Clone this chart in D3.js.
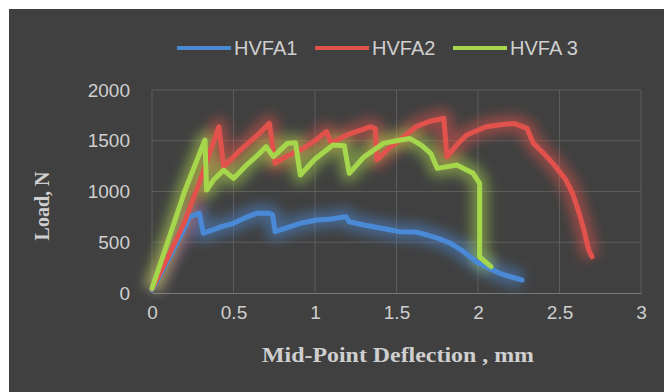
<!DOCTYPE html>
<head>
    <meta charset="utf-8">
    <script src="https://d3js.org/d3.v7.min.js"></script>
    <style>
        body { margin: 0; background: #fff; }
        .tick text { font-family: "Liberation Sans", Arial, sans-serif; }
    </style>
</head>
<body>
    <svg width="664" height="392"></svg>
    <script>
        // deflection (mm), load (N)
        var hvfa1 = [[0, 30], [0.1, 330], [0.2, 640], [0.23, 750], [0.29, 787], [0.315, 590], [0.35, 610],
            [0.42, 650], [0.5, 686], [0.57, 740], [0.64, 785], [0.72, 785], [0.74, 770], [0.755, 604],
            [0.82, 640], [0.91, 687], [1.01, 719], [1.1, 730], [1.19, 752], [1.21, 702], [1.3, 670],
            [1.4, 640], [1.52, 604], [1.62, 600], [1.69, 571], [1.76, 535], [1.83, 492], [1.91, 410],
            [1.99, 308], [2.06, 250], [2.13, 197], [2.2, 160], [2.27, 128]];
        var hvfa2 = [[0, 40], [0.1, 360], [0.2, 700], [0.3, 1130], [0.41, 1638], [0.44, 1244], [0.55, 1420],
            [0.65, 1560], [0.72, 1671], [0.755, 1277], [0.83, 1350], [0.91, 1408], [1.0, 1500],
            [1.07, 1590], [1.1, 1480], [1.2, 1560], [1.34, 1638], [1.37, 1620], [1.38, 1310],
            [1.45, 1420], [1.52, 1507], [1.62, 1638], [1.7, 1690], [1.79, 1721], [1.81, 1343],
            [1.87, 1460], [1.93, 1556], [2.05, 1638], [2.15, 1660], [2.22, 1671], [2.3, 1622],
            [2.34, 1474], [2.4, 1380], [2.46, 1277], [2.54, 1113], [2.58, 982], [2.62, 790],
            [2.65, 620], [2.68, 420], [2.7, 357]];
        var hvfa3 = [[0, 46], [0.1, 520], [0.2, 1000], [0.325, 1507], [0.335, 1014], [0.38, 1120],
            [0.44, 1211], [0.5, 1129], [0.58, 1260], [0.66, 1376], [0.7, 1441], [0.745, 1343],
            [0.83, 1474], [0.88, 1480], [0.91, 1162], [1.0, 1320], [1.11, 1458], [1.18, 1450],
            [1.21, 1179], [1.3, 1340], [1.42, 1474], [1.5, 1500], [1.58, 1523], [1.65, 1460],
            [1.71, 1376], [1.75, 1228], [1.87, 1261], [1.97, 1179], [2.01, 1080], [2.01, 357],
            [2.05, 300], [2.08, 259]];
        var seriesNames = ["HVFA1", "HVFA2", "HVFA 3"];
        var seriesColors = ["#4a89d6", "#e2524c", "#a5d64b"];
        var xTicks = [0, 0.5, 1, 1.5, 2, 2.5, 3];
        var yTicks = [0, 500, 1000, 1500, 2000];

        var width = 664, height = 392;
        var margin = { left: 152, right: 23, top: 90, bottom: 99 };
        var svg = d3.select("svg");

        svg.append("rect")
            .attr("x", 9).attr("y", 9)
            .attr("width", width - 9).attr("height", height - 9)
            .attr("fill", "#404040");

        var x = d3.scaleLinear().domain([0, 3]).range([margin.left, width - margin.right]);
        var y = d3.scaleLinear().domain([0, 2000]).range([height - margin.bottom, margin.top]);

        var defs = svg.append("defs");
        defs.append("filter").attr("id", "glow")
            .attr("x", "-20%").attr("y", "-20%").attr("width", "140%").attr("height", "140%")
            .append("feGaussianBlur").attr("stdDeviation", 6);

        // grid
        svg.append("g")
            .selectAll("line")
            .data(yTicks.slice(1))
            .enter().append("line")
            .attr("x1", x(0)).attr("x2", x(3))
            .attr("y1", d => y(d)).attr("y2", d => y(d))
            .attr("stroke", "#5c5c5c");
        svg.append("g")
            .selectAll("line")
            .data(xTicks)
            .enter().append("line")
            .attr("y1", y(0)).attr("y2", y(2000))
            .attr("x1", d => x(d)).attr("x2", d => x(d))
            .attr("stroke", "#5c5c5c");

        var xAxis = svg.append("g")
            .attr("transform", "translate(0," + y(0) + ")")
            .call(d3.axisBottom(x).tickValues(xTicks).tickSize(0).tickPadding(13).tickFormat(d3.format("")));
        var yAxis = svg.append("g")
            .attr("transform", "translate(" + x(0) + ",0)")
            .call(d3.axisLeft(y).tickValues(yTicks).tickSize(0).tickPadding(22).tickFormat(d3.format("d")));
        xAxis.select(".domain").attr("stroke", "#7a7a7a");
        yAxis.select(".domain").remove();
        svg.selectAll(".tick text")
            .attr("fill", "#cfcfcf")
            .attr("font-size", 19);

        // series
        var line = d3.line().x(d => x(d[0])).y(d => y(d[1]));
        var all = [hvfa1, hvfa2, hvfa3];
        var glowG = svg.append("g").attr("filter", "url(#glow)");
        all.forEach(function (s, i) {
            glowG.append("path")
                .attr("d", line(s))
                .attr("fill", "none")
                .attr("stroke", seriesColors[i])
                .attr("stroke-opacity", 0.5)
                .attr("stroke-width", 18)
                .attr("stroke-linejoin", "round");
        });
        all.forEach(function (s, i) {
            svg.append("path")
                .attr("d", line(s))
                .attr("fill", "none")
                .attr("stroke", seriesColors[i])
                .attr("stroke-width", 5)
                .attr("stroke-linejoin", "round")
                .attr("stroke-linecap", "round");
        });

        // legend
        var legendX = [177, 315, 453];
        var legend = svg.append("g").selectAll("g")
            .data(seriesNames)
            .enter().append("g")
            .attr("transform", (d, i) => "translate(" + legendX[i] + ",48)");
        legend.append("line")
            .attr("x1", 0).attr("x2", 54)
            .attr("stroke", (d, i) => seriesColors[i])
            .attr("stroke-width", 4);
        legend.append("text")
            .attr("x", 57).attr("y", 7)
            .attr("font-family", "Liberation Sans, Arial, sans-serif")
            .attr("font-size", 20)
            .attr("fill", "#cfcfcf")
            .text(d => d);

        // axis titles
        svg.append("text")
            .attr("x", 398).attr("y", 362)
            .attr("text-anchor", "middle")
            .attr("font-family", "Liberation Serif, Times New Roman, serif")
            .attr("font-weight", "bold")
            .attr("font-size", 21)
            .attr("textLength", 272)
            .attr("lengthAdjust", "spacingAndGlyphs")
            .attr("fill", "#cfcfcf")
            .text("Mid-Point Deflection , mm");
        svg.append("text")
            .attr("transform", "translate(49,206) rotate(-90)")
            .attr("text-anchor", "middle")
            .attr("font-family", "Liberation Serif, Times New Roman, serif")
            .attr("font-weight", "bold")
            .attr("font-size", 20)
            .attr("fill", "#cfcfcf")
            .text("Load, N");
    </script>
</body>
